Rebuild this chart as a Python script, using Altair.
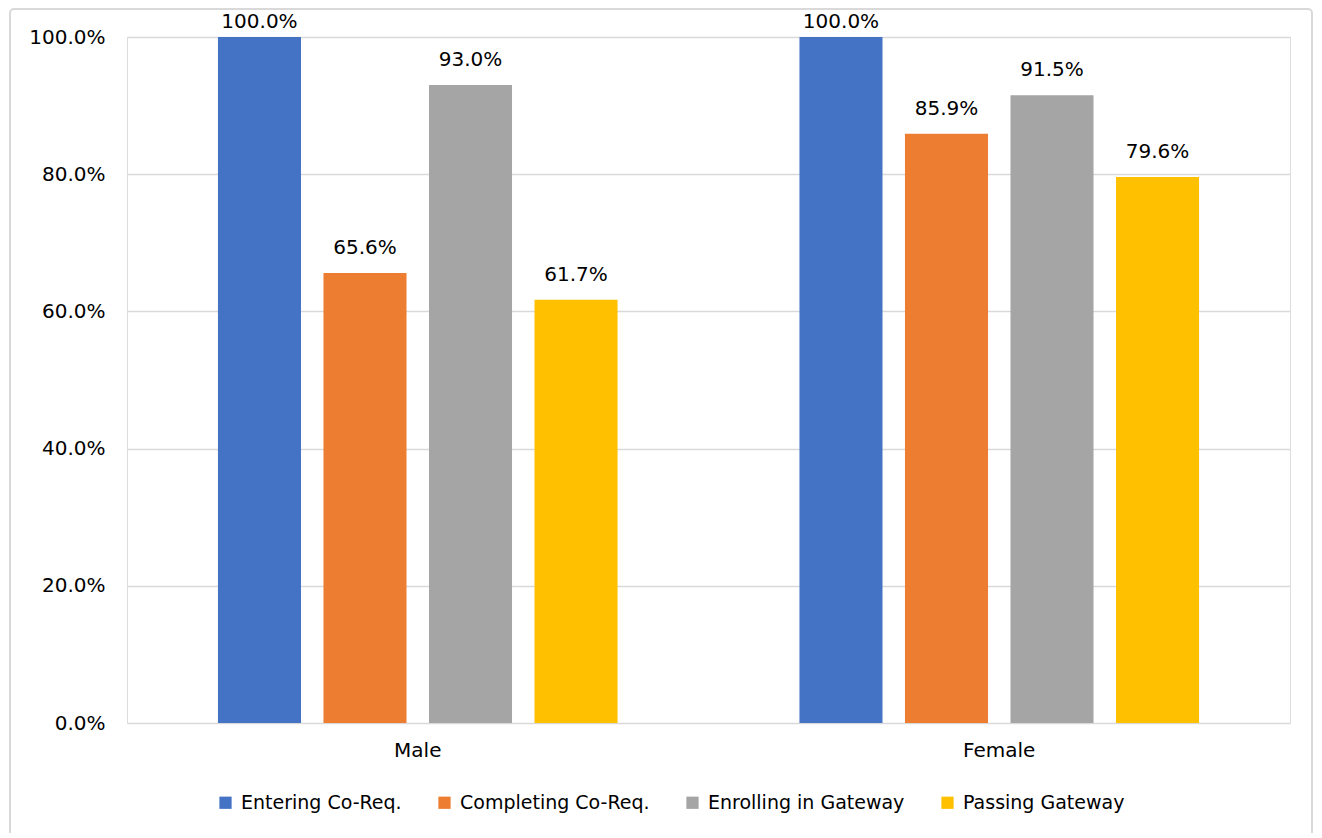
import altair as alt
import pandas as pd

genders = ["Male", "Female"]
stages = ["Entering Co-Req.", "Completing Co-Req.", "Enrolling in Gateway", "Passing Gateway"]
male_values = [1.000, 0.656, 0.930, 0.617]
female_values = [1.000, 0.859, 0.915, 0.796]
colors = ["#4472C4", "#ED7D31", "#A5A5A5", "#FFC000"]
y_ticks = [0, 0.2, 0.4, 0.6, 0.8, 1.0]

rows = []
for g, vals in zip(genders, [male_values, female_values]):
    for s, v in zip(stages, vals):
        rows.append({"gender": g, "stage": s, "value": v})
df = pd.DataFrame(rows)

FONT = "DejaVu Sans"
GRID = "#D9D9D9"

x_enc = alt.X(
    "gender:N",
    sort=genders,
    scale=alt.Scale(paddingInner=0, paddingOuter=0),
    axis=alt.Axis(title=None, labelAngle=0, ticks=False, domain=False,
                  labelFontSize=20, labelPadding=17, labelColor="#000000",
                  labelFont=FONT),
)
xoff_enc = alt.XOffset(
    "stage:N",
    sort=stages,
    scale=alt.Scale(paddingInner=0.213, paddingOuter=0.862),
)
y_enc = alt.Y(
    "value:Q",
    scale=alt.Scale(domain=[0, 1], nice=False),
    axis=alt.Axis(title=None, values=y_ticks, format=".1%", ticks=False,
                  domain=False, grid=True, gridColor=GRID, gridWidth=1.5,
                  labelFontSize=20, labelPadding=22, labelColor="#000000",
                  labelFont=FONT),
)
color_enc = alt.Color(
    "stage:N",
    sort=stages,
    scale=alt.Scale(domain=stages, range=colors),
    legend=alt.Legend(title=None, orient="none", legendX=89, legendY=756,
                      direction="horizontal", columns=4, columnPadding=33,
                      symbolType="square", symbolSize=150, symbolStrokeWidth=0,
                      labelFontSize=19, labelFont=FONT, labelColor="#000000",
                      labelOffset=6, labelLimit=400),
)

base = alt.Chart(df)

bars = base.mark_bar().encode(x=x_enc, xOffset=xoff_enc, y=y_enc, color=color_enc)

labels = base.transform_calculate(
    label_pos="min(datum.value, 0.985)"
).mark_text(baseline="alphabetic", dy=-19, fontSize=20, font=FONT,
            color="#000000").encode(
    x=alt.X("gender:N", sort=genders),
    xOffset=alt.XOffset("stage:N", sort=stages),
    y=alt.Y("label_pos:Q"),
    text=alt.Text("value:Q", format=".1%"),
)

frame = alt.Chart(pd.DataFrame({"f": [0]})).mark_rect(
    fill=None, stroke=GRID, strokeWidth=2, cornerRadius=4
).encode(x=alt.value(-117), x2=alt.value(1185), y=alt.value(-28), y2=alt.value(900))

chart = alt.layer(frame, bars, labels).properties(
    width=1163,
    height=686,
    autosize=alt.AutoSizeParams(type="none"),
    padding={"left": 119, "top": 29, "right": 24, "bottom": 110},
).configure_view(stroke=None).configure(font=FONT)

chart.save("out.html", embed_options={"renderer": "svg", "actions": False})
